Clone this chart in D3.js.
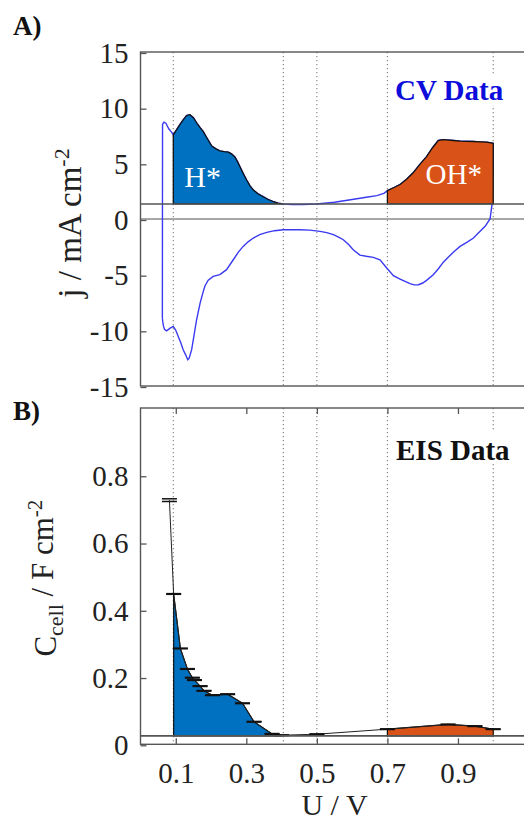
<!DOCTYPE html>
<html>
<head>
<meta charset="utf-8">
<script src="https://cdn.jsdelivr.net/npm/d3@7"></script>
<style>
  body { margin: 0; background: #fff; }
  svg text { font-family: "Liberation Serif", "Times New Roman", Times, serif !important; }
</style>
</head>
<body>
<div class="chart"></div>
<script>
// CV data, anodic sweep (left to right) and cathodic sweep (right to left)
const cvAnodicU = [0.062, 0.0625, 0.066, 0.072, 0.080, 0.088, 0.093, 0.102, 0.112, 0.122, 0.131, 0.140, 0.150, 0.160, 0.169, 0.178, 0.188, 0.202, 0.214, 0.225, 0.237, 0.249, 0.258, 0.268, 0.275, 0.282, 0.291, 0.301, 0.310, 0.320, 0.334, 0.348, 0.362, 0.377, 0.390, 0.405, 0.43, 0.46, 0.50, 0.55, 0.60, 0.64, 0.67, 0.69, 0.70, 0.72, 0.736, 0.755, 0.773, 0.792, 0.811, 0.828, 0.844, 0.856, 0.868, 0.887, 0.906, 0.925, 0.944, 0.963, 0.982, 1.0];
const cvAnodicJ = [-8.9, 8.5, 8.7, 8.6, 8.1, 7.8, 7.55, 8.0, 8.5, 8.95, 9.3, 9.37, 9.1, 8.6, 8.2, 7.85, 7.3, 6.55, 6.3, 6.12, 6.05, 6.0, 5.85, 5.55, 5.15, 4.7, 4.1, 3.5, 3.0, 2.6, 2.25, 2.0, 1.75, 1.55, 1.42, 1.35, 1.3, 1.3, 1.35, 1.5, 1.75, 1.95, 2.1, 2.3, 2.55, 2.85, 3.1, 3.6, 4.15, 4.9, 5.6, 6.4, 7.05, 7.12, 7.1, 7.05, 7.0, 6.98, 6.96, 6.93, 6.9, 6.8];
const cvCathodicU = [1.0, 0.997, 0.991, 0.977, 0.96, 0.944, 0.925, 0.906, 0.89, 0.873, 0.858, 0.844, 0.830, 0.811, 0.80, 0.788, 0.776, 0.764, 0.75, 0.736, 0.717, 0.698, 0.679, 0.660, 0.64, 0.622, 0.603, 0.59, 0.575, 0.56, 0.547, 0.528, 0.509, 0.48, 0.452, 0.43, 0.405, 0.38, 0.358, 0.338, 0.320, 0.305, 0.291, 0.277, 0.263, 0.244, 0.225, 0.206, 0.192, 0.183, 0.178, 0.169, 0.159, 0.152, 0.145, 0.138, 0.134, 0.128, 0.121, 0.114, 0.107, 0.100, 0.093, 0.084, 0.074, 0.068, 0.065, 0.063, 0.062];
const cvCathodicJ = [6.8, 1.4, 0, -0.66, -1.2, -1.71, -2.1, -2.46, -2.9, -3.41, -3.9, -4.49, -5.0, -5.51, -5.75, -5.9, -5.92, -5.81, -5.6, -5.39, -5.09, -4.4, -3.66, -3.45, -3.35, -3.24, -2.76, -2.3, -1.86, -1.6, -1.41, -1.22, -1.11, -1.0, -0.96, -0.95, -0.96, -1.05, -1.2, -1.4, -1.71, -2.05, -2.46, -3.0, -3.66, -4.55, -5.0, -5.15, -5.5, -5.99, -6.5, -7.55, -9.05, -10.4, -11.74, -12.5, -12.64, -12.2, -11.74, -11.1, -10.55, -10.0, -9.65, -9.8, -10.04, -9.9, -9.6, -9.2, -8.9];

// EIS data
const eisU = [0.082, 0.094, 0.113, 0.133, 0.147, 0.153, 0.169, 0.180, 0.204, 0.247, 0.289, 0.322, 0.373, 0.40, 0.50, 0.70, 0.872, 0.948, 1.0];
const eisC = [0.726, 0.447, 0.285, 0.224, 0.198, 0.191, 0.173, 0.159, 0.146, 0.149, 0.122, 0.067, 0.031, 0.027, 0.030, 0.045, 0.059, 0.054, 0.045];
const eisErr = [0.004, 0.001, 0.001, 0.001, 0.001, 0.001, 0.001, 0.001, 0.001, 0.001, 0.001, 0.001, 0.001, 0.001, 0.001, 0.001, 0.001, 0.001, 0.001];

// region limits and baselines
const guideU = [0.093, 0.405, 0.5, 0.7, 1.0];
const hRange = [0.093, 0.405];
const ohRange = [0.7, 1.0];
const cvBase = 1.35;
const eisBase = 0.025;

const cvTicks = [-15, -10, -5, 0, 5, 10, 15];
const eisTicks = [0, 0.2, 0.4, 0.6, 0.8];
const uTicks = [0.1, 0.3, 0.5, 0.7, 0.9];

const blue = "#0070c0", orange = "#d95319", grid = "#8a8a8a", frame = "#555";
const serif = "'Liberation Serif', 'Times New Roman', serif";

const svg = d3.select(".chart")
  .append("svg")
  .attr("width", 524)
  .attr("height", 824);

const x = d3.scaleLinear().domain([0, 1.1]).range([140.5, 528.5]);
const yA = d3.scaleLinear().domain([-15, 15]).range([386, 52]);
const yB = d3.scaleLinear().domain([0, 1]).range([744.3, 408]);

const cv = cvAnodicU.map((u, i) => ({ u, j: cvAnodicJ[i] }))
  .concat(cvCathodicU.map((u, i) => ({ u, j: cvCathodicJ[i] })));
const anodic = cvAnodicU.map((u, i) => ({ u, j: cvAnodicJ[i] }));
const eis = eisU.map((u, i) => ({ u, c: eisC[i], e: eisErr[i] }));

function panel(y, dom) {
  const g = svg.append("g");
  // dotted guides
  g.selectAll("line.guide")
    .data(guideU)
    .join("line")
    .attr("x1", d => x(d)).attr("x2", d => x(d))
    .attr("y1", y(dom[1])).attr("y2", y(dom[0]))
    .attr("stroke", grid)
    .attr("stroke-width", 1.2)
    .attr("stroke-dasharray", "1.2,2.8");
  return g;
}

function styleTicks(g) {
  g.select(".domain").remove();
  g.selectAll("line").attr("stroke", frame).attr("stroke-width", 1.3);
  g.selectAll("text").attr("font-size", 29).attr("fill", "#222").style("font-family", serif);
}

// ---------- panel A ----------
const gA = panel(yA, [-15, 15]);

gA.append("line")
  .attr("x1", x(0)).attr("x2", x(1.1))
  .attr("y1", yA(0)).attr("y2", yA(0))
  .attr("stroke", grid).attr("stroke-width", 1.3);

gA.append("path")
  .datum(cv)
  .attr("d", d3.line().x(d => x(d.u)).y(d => yA(d.j)))
  .attr("fill", "none")
  .attr("stroke", "#3a3af2")
  .attr("stroke-width", 1.4);

const areaA = d3.area().x(d => x(d.u)).y0(yA(cvBase)).y1(d => yA(d.j));
[[hRange, blue], [ohRange, orange]].forEach(([r, col]) => {
  const pts = anodic.filter(d => d.u >= r[0] && d.u <= r[1]);
  gA.append("path").datum(pts).attr("d", areaA)
    .attr("fill", col).attr("stroke", "#111").attr("stroke-width", 1.3);
});

gA.append("line")
  .attr("x1", x(0)).attr("x2", x(1.1))
  .attr("y1", yA(cvBase)).attr("y2", yA(cvBase))
  .attr("stroke", frame).attr("stroke-width", 1.6);

gA.append("rect")
  .attr("x", x(0)).attr("y", yA(15))
  .attr("width", x(1.1) - x(0)).attr("height", yA(-15) - yA(15))
  .attr("fill", "none").attr("stroke", frame).attr("stroke-width", 1.4);

gA.append("g")
  .attr("transform", `translate(${x(0)},1)`)
  .call(d3.axisLeft(yA).tickValues(cvTicks).tickSize(-6).tickPadding(12).tickFormat(d => String(d)))
  .call(styleTicks);

gA.append("text")
  .attr("x", x(0.176)).attr("y", yA(2.9))
  .attr("text-anchor", "middle")
  .attr("font-size", 30).attr("fill", "#fff")
  .style("font-family", serif)
  .text("H*");
gA.append("text")
  .attr("x", x(0.888)).attr("y", yA(3.1))
  .attr("text-anchor", "middle")
  .attr("font-size", 29).attr("fill", "#fff")
  .style("font-family", serif)
  .text("OH*");

gA.append("rect").attr("x", 392).attr("y", 75).attr("width", 122).attr("height", 30).attr("fill", "#fff");
gA.append("text")
  .attr("x", 395).attr("y", 100)
  .attr("font-size", 29).attr("font-weight", "bold").attr("fill", "#0d0ddb")
  .style("font-family", serif)
  .text("CV Data");

const labA = gA.append("text")
  .attr("transform", `translate(81,${yA(0) + 4}) rotate(-90)`)
  .attr("text-anchor", "middle")
  .attr("font-size", 33).attr("fill", "#222")
  .style("font-family", serif);
labA.append("tspan").text("j / mA cm");
labA.append("tspan").attr("dy", "-0.55em").attr("font-size", 22).text("-2");

// ---------- panel B ----------
const gB = panel(yB, [0, 1]);

const areaB = d3.area().x(d => x(d.u)).y0(yB(eisBase)).y1(d => yB(d.c));
[[hRange, blue], [ohRange, orange]].forEach(([r, col]) => {
  const pts = eis.filter(d => d.u >= r[0] && d.u <= r[1] + 0.001);
  gB.append("path").datum(pts).attr("d", areaB)
    .attr("fill", col).attr("stroke", "#111").attr("stroke-width", 1.2);
});

gB.append("path")
  .datum(eis)
  .attr("d", d3.line().x(d => x(d.u)).y(d => yB(d.c)))
  .attr("fill", "none").attr("stroke", "#222").attr("stroke-width", 1);

// error bar caps
const caps = gB.selectAll("g.cap").data(eis).join("g").attr("class", "cap");
[-1, 1].forEach(s => {
  caps.append("line")
    .attr("x1", d => x(d.u) - 7.5).attr("x2", d => x(d.u) + 7.5)
    .attr("y1", d => yB(d.c + s * d.e)).attr("y2", d => yB(d.c + s * d.e))
    .attr("stroke", "#111").attr("stroke-width", 1.5);
});

gB.append("line")
  .attr("x1", x(0)).attr("x2", x(1.1))
  .attr("y1", yB(eisBase)).attr("y2", yB(eisBase))
  .attr("stroke", frame).attr("stroke-width", 1.6);

gB.append("rect")
  .attr("x", x(0)).attr("y", yB(1))
  .attr("width", x(1.1) - x(0)).attr("height", yB(0) - yB(1))
  .attr("fill", "none").attr("stroke", frame).attr("stroke-width", 1.4);

gB.append("g")
  .attr("transform", `translate(${x(0)},1)`)
  .call(d3.axisLeft(yB).tickValues(eisTicks).tickSize(-6).tickPadding(12).tickFormat(d => d === 0 ? "0" : d3.format(".1f")(d)))
  .call(styleTicks);

gB.append("g")
  .attr("transform", `translate(0,${yB(0)})`)
  .call(d3.axisBottom(x).tickValues(uTicks).tickSize(-6).tickPadding(18).tickFormat(d3.format(".1f")))
  .call(styleTicks);

gB.append("g")
  .attr("transform", `translate(0,${yB(1)})`)
  .call(d3.axisTop(x).tickValues(uTicks).tickSize(-6).tickFormat(""))
  .call(styleTicks);

gB.append("rect").attr("x", 392).attr("y", 430).attr("width", 125).attr("height", 34).attr("fill", "#fff");
gB.append("text")
  .attr("x", 396).attr("y", 460)
  .attr("font-size", 29).attr("font-weight", "bold").attr("fill", "#111")
  .style("font-family", serif)
  .text("EIS Data");

const labB = gB.append("text")
  .attr("transform", `translate(56,${(yB(0) + yB(1)) / 2 + 2}) rotate(-90)`)
  .attr("text-anchor", "middle")
  .attr("font-size", 31).attr("fill", "#222")
  .style("font-family", serif);
labB.append("tspan").text("C");
labB.append("tspan").attr("dy", "0.3em").attr("font-size", 22).text("cell");
labB.append("tspan").attr("dy", "-0.3em").text(" / F cm");
labB.append("tspan").attr("dy", "-0.55em").attr("font-size", 21).text("-2");

svg.append("text")
  .attr("x", (x(0) + x(1.1)) / 2).attr("y", 815)
  .attr("text-anchor", "middle")
  .attr("font-size", 30).attr("fill", "#222")
  .style("font-family", serif)
  .text("U / V");

// panel letters
svg.append("text").attr("x", 13).attr("y", 35)
  .attr("font-size", 27).attr("font-weight", "bold").attr("fill", "#111")
  .style("font-family", serif).text("A)");
svg.append("text").attr("x", 13).attr("y", 420)
  .attr("font-size", 27).attr("font-weight", "bold").attr("fill", "#111")
  .style("font-family", serif).text("B)");
</script>
</body>
</html>
